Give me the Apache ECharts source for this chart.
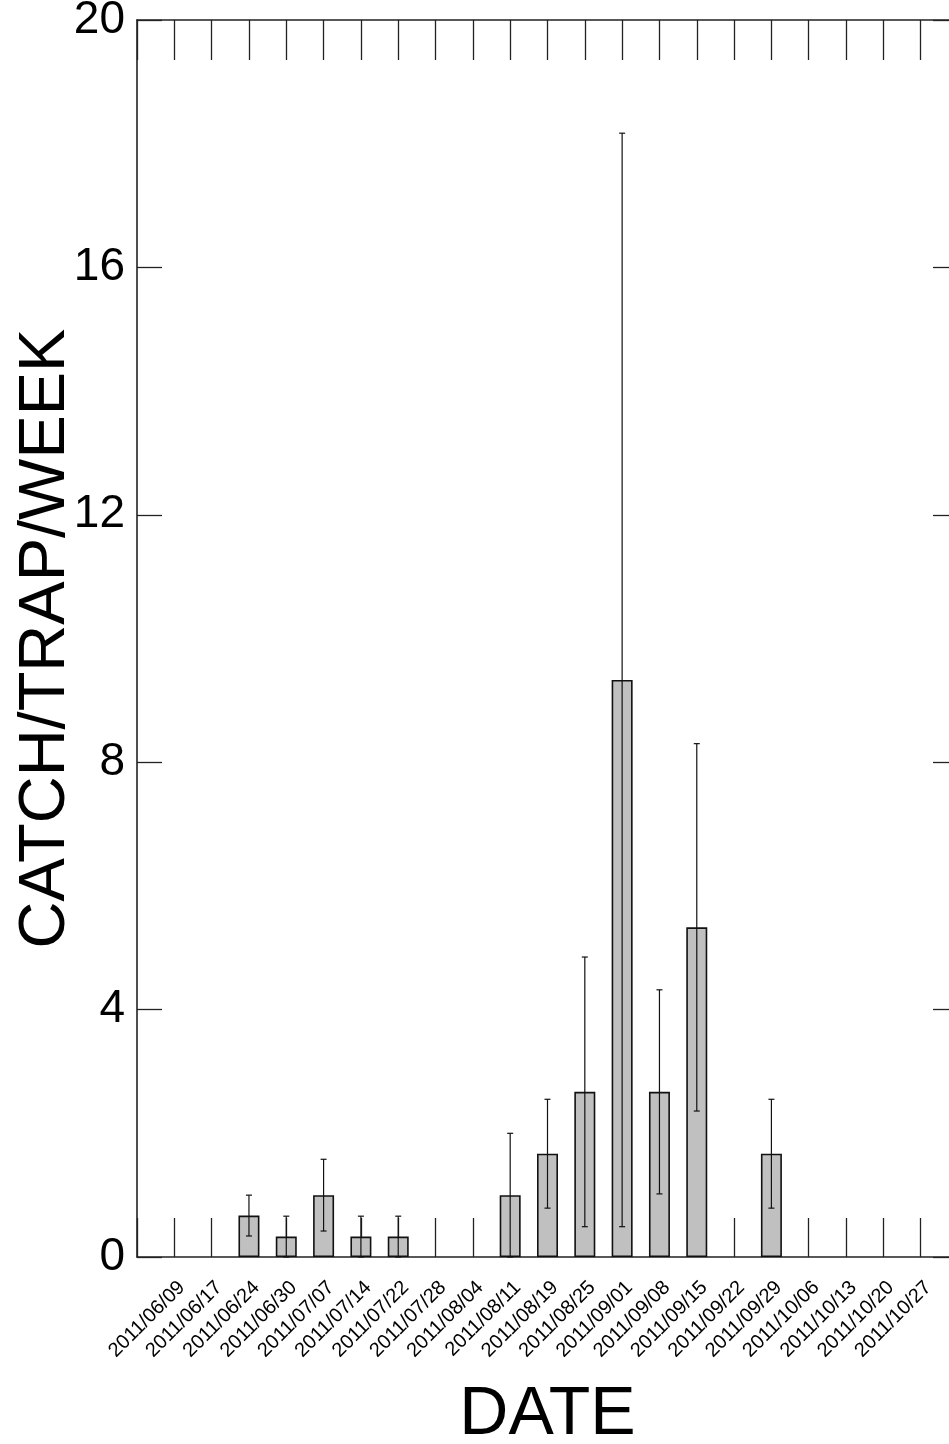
<!DOCTYPE html>
<html>
<head>
<meta charset="utf-8">
<script src="https://cdn.jsdelivr.net/npm/echarts@6/dist/echarts.min.js"></script>
<style>
html, body { margin: 0; padding: 0; background: #fff; }
#chartmain1 { width: 949px; height: 1444px; }
</style>
</head>
<body>
<div id="chartmain1"></div>
<script>
var dates = ['2011/06/09','2011/06/17','2011/06/24','2011/06/30','2011/07/07','2011/07/14','2011/07/22',
    '2011/07/28','2011/08/04','2011/08/11','2011/08/19','2011/08/25','2011/09/01','2011/09/08',
    '2011/09/15','2011/09/22','2011/09/29','2011/10/06','2011/10/13','2011/10/20','2011/10/27'];
var catch_mean = [0, 0, 0.67, 0.33, 1.0, 0.33, 0.33, 0, 0, 1.0, 1.67, 2.67, 9.33, 2.67, 5.33, 0, 1.67, 0, 0, 0, 0];
var catch_err = [0, 0, 0.33, 0.33, 0.58, 0.33, 0.33, 0, 0, 1.0, 0.88, 2.18, 8.84, 1.65, 2.97, 0, 0.88, 0, 0, 0, 0];
var yTicks = [0, 4, 8, 12, 16, 20];

// empty slot at each end so the dates sit one step in from the frame
var cats = [''].concat(dates, ['']);
var barData = ['-'];
var errData = [];
for (var i = 0; i < dates.length; i++) {
    barData.push(catch_mean[i] === 0 ? '-' : catch_mean[i]);
    if (catch_err[i] > 0) {
        errData.push([i + 1, Math.max(0, catch_mean[i] - catch_err[i]), catch_mean[i] + catch_err[i]]);
    }
}
barData.push('-');

var lineCol = '#222';
var font = "'Liberation Sans', Arial, sans-serif";
var myChart = echarts.init(document.getElementById('chartmain1'));
var option = {
    animation: false,
    grid: { left: 137, top: 20, width: 821, height: 1237, outerBoundsMode: 'none', containLabel: false },
    xAxis: [
        {
            type: 'category',
            data: cats,
            boundaryGap: false,
            name: 'DATE',
            nameLocation: 'middle',
            nameGap: 124,
            nameMoveOverlap: false,
            nameTextStyle: { fontFamily: font, fontSize: 68, color: '#000' },
            axisLine: { onZero: false, lineStyle: { color: lineCol, width: 1.6 } },
            axisTick: { inside: true, length: 39, interval: 0, lineStyle: { color: lineCol, width: 1.3 } },
            axisLabel: { interval: 0, rotate: 45, margin: 20, verticalAlign: 'top', lineHeight: 21, fontSize: 20, color: '#000', fontFamily: font }
        },
        {
            type: 'category',
            data: cats,
            boundaryGap: false,
            position: 'top',
            axisLine: { onZero: false, lineStyle: { color: lineCol, width: 1.6 } },
            axisTick: { inside: true, length: 40, interval: 0, lineStyle: { color: lineCol, width: 1.3 } },
            axisLabel: { show: false }
        }
    ],
    yAxis: [
        {
            type: 'value',
            min: yTicks[0],
            max: yTicks[yTicks.length - 1],
            interval: 4,
            name: 'CATCH/TRAP/WEEK',
            nameLocation: 'middle',
            nameGap: 58,
            nameMoveOverlap: false,
            nameTextStyle: { fontFamily: font, fontSize: 65, color: '#000' },
            splitLine: { show: false },
            axisLine: { show: true, onZero: false, lineStyle: { color: lineCol, width: 1.6 } },
            axisTick: { show: true, inside: true, length: 25, lineStyle: { color: lineCol, width: 1.3 } },
            axisLabel: { margin: 12, fontSize: 46, color: '#000', fontFamily: font }
        },
        {
            type: 'value',
            min: yTicks[0],
            max: yTicks[yTicks.length - 1],
            interval: 4,
            position: 'right',
            splitLine: { show: false },
            axisLine: { show: true, onZero: false, lineStyle: { color: lineCol, width: 1.6 } },
            axisTick: { show: true, inside: true, length: 25, lineStyle: { color: lineCol, width: 1.3 } },
            axisLabel: { show: false }
        }
    ],
    series: [
        {
            type: 'bar',
            data: barData,
            barWidth: 21,
            itemStyle: { color: '#c0c0c0', borderColor: '#111', borderWidth: 1.6 }
        },
        {
            type: 'custom',
            data: errData,
            z: 5,
            renderItem: function (params, api) {
                var x = api.value(0);
                var lo = api.coord([x, api.value(1)]);
                var hi = api.coord([x, api.value(2)]);
                var w = 3;
                var st = { stroke: '#111', lineWidth: 1.2 };
                return {
                    type: 'group',
                    children: [
                        { type: 'line', shape: { x1: lo[0], y1: lo[1], x2: hi[0], y2: hi[1] }, style: st },
                        { type: 'line', shape: { x1: hi[0] - w, y1: hi[1], x2: hi[0] + w, y2: hi[1] }, style: st },
                        { type: 'line', shape: { x1: lo[0] - w, y1: lo[1], x2: lo[0] + w, y2: lo[1] }, style: st }
                    ]
                };
            }
        }
    ]
};
myChart.setOption(option);
</script>
</body>
</html>
